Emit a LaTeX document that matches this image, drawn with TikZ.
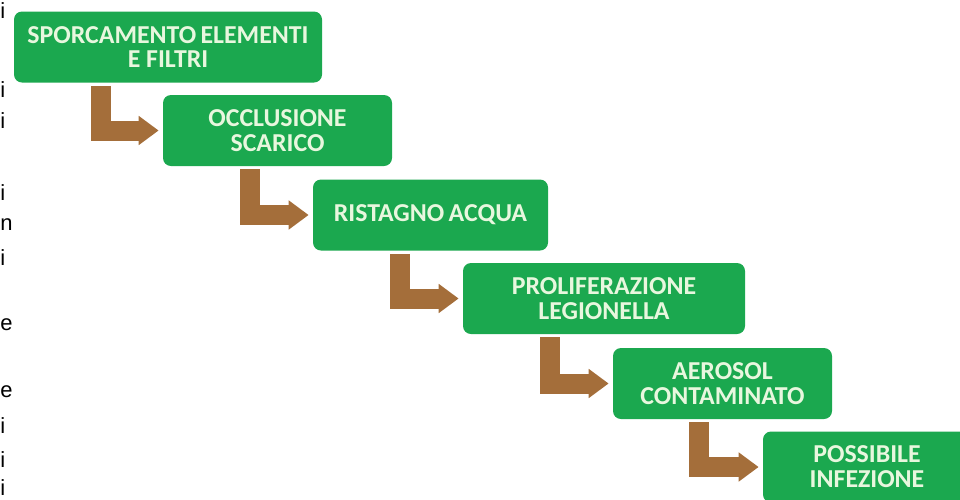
\documentclass[tikz,border=0pt]{standalone}
\usepackage{fontspec}
\setmainfont{Carlito}
\newfontfamily\pagefont{Liberation Sans}
\usetikzlibrary{arrows.meta, calc}
\usepackage{xcolor}

\definecolor{boxgreen}{RGB}{27,168,79}
\definecolor{textpale}{RGB}{232,247,222}
\definecolor{arrowbrown}{RGB}{164,110,58}

\begin{document}
\begin{tikzpicture}[
    phase/.style={rectangle, rounded corners=0.16cm, fill=boxgreen, text=textpale, align=center, minimum height=1.42cm, inner sep=0pt, font=\fontsize{14.7}{14.2}\selectfont\bfseries},
    elbow/.style={-{Triangle[length=0.4cm, width=0.56cm]}, line width=0.4cm, arrowbrown, line join=miter},
    margin/.style={anchor=base west, inner sep=0pt, font=\pagefont\fontsize{12.5}{15}\selectfont}
]
    % Frame
    \clip (0, 0) rectangle (19.2, -9.98);

    % Cut-off page text on the left
    \node[margin] (m1) at (0, -0.36) {i};
    \node[margin] (m2) at (0, -1.94) {i};
    \node[margin] (m3) at (0, -2.56) {i};
    \node[margin] (m4) at (0, -4.00) {i};
    \node[margin] (m5) at (0, -4.60) {n};
    \node[margin] (m6) at (0, -5.30) {i};
    \node[margin] (m7) at (0, -6.60) {e};
    \node[margin] (m8) at (0, -7.94) {e};
    \node[margin] (m9) at (0, -8.66) {i};
    \node[margin] (m10) at (0, -9.34) {i};
    \node[margin] (m11) at (0, -9.90) {i};

    % Phases
    \node[phase, minimum width=6.16cm] (sporc) at (3.36, -0.94) {SPORCAMENTO\,ELEMENTI\\E FILTRI};
    \node[phase, minimum width=4.58cm] (occl) at (5.55, -2.61) {OCCLUSIONE\\SCARICO};
    \node[phase, minimum width=4.70cm] (rist) at (8.61, -4.30) {RISTAGNO\,ACQUA};
    \node[phase, minimum width=5.64cm] (prolif) at (12.08, -5.97) {PROLIFERAZIONE\\LEGIONELLA};
    \node[phase, minimum width=4.38cm] (aeros) at (14.45, -7.67) {AEROSOL\\CONTAMINATO};
    \node[phase, minimum width=4.16cm] (infez) at (17.34, -9.34) {POSSIBILE\\INFEZIONE};

    % Elbow arrows
    \draw[elbow] ([xshift=1.74cm, yshift=-0.06cm] sporc.south west) |- ([xshift=-0.08cm] occl.west);
    \draw[elbow] ([xshift=1.74cm, yshift=-0.06cm] occl.south west) |- ([xshift=-0.08cm] rist.west);
    \draw[elbow] ([xshift=1.74cm, yshift=-0.06cm] rist.south west) |- ([xshift=-0.08cm] prolif.west);
    \draw[elbow] ([xshift=1.74cm, yshift=-0.06cm] prolif.south west) |- ([xshift=-0.08cm] aeros.west);
    \draw[elbow] ([xshift=1.72cm, yshift=-0.06cm] aeros.south west) |- ([xshift=-0.08cm] infez.west);
\end{tikzpicture}
\end{document}
